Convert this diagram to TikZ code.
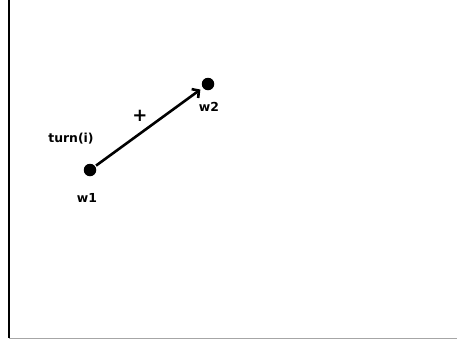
\documentclass[tikz,border=0pt]{standalone}
\usepackage{fontspec}
\setmainfont{DejaVu Sans}
\usetikzlibrary{arrows.meta,positioning}

\tikzset{
  dot/.style={circle,fill=black,inner sep=0pt,minimum size=12.5pt},
  lbl/.style={font=\fontsize{12.4}{14}\selectfont\bfseries},
  move/.style={line width=2.6pt,-{Straight Barb[length=5pt,width=11pt]},shorten >=3pt,shorten <=1pt}
}

\begin{document}
\begin{tikzpicture}[x=1pt,y=-1pt]
  \useasboundingbox (0,0) rectangle (457,341);

  % frame lines
  \draw[black,line width=1.5pt] (9,0) -- (9,338);
  \draw[black!35,line width=1pt] (9,338.5) -- (457,338.5);

  % walkers
  \node[dot] (w1) at (90,170) {};
  \node[dot] (w2) at (208,84) {};
  \node[lbl] (w1lbl) at (87,198) {w1};
  \node[lbl] (w2lbl) at (209,107) {w2};
  \node[lbl] (turn) at (71,139) {turn(i)};

  % step
  \draw[move] (w1) -- (w2);
  \node[lbl,font=\fontsize{18}{20}\selectfont\bfseries] (plus) at (140,116) {+};
\end{tikzpicture}
\end{document}
